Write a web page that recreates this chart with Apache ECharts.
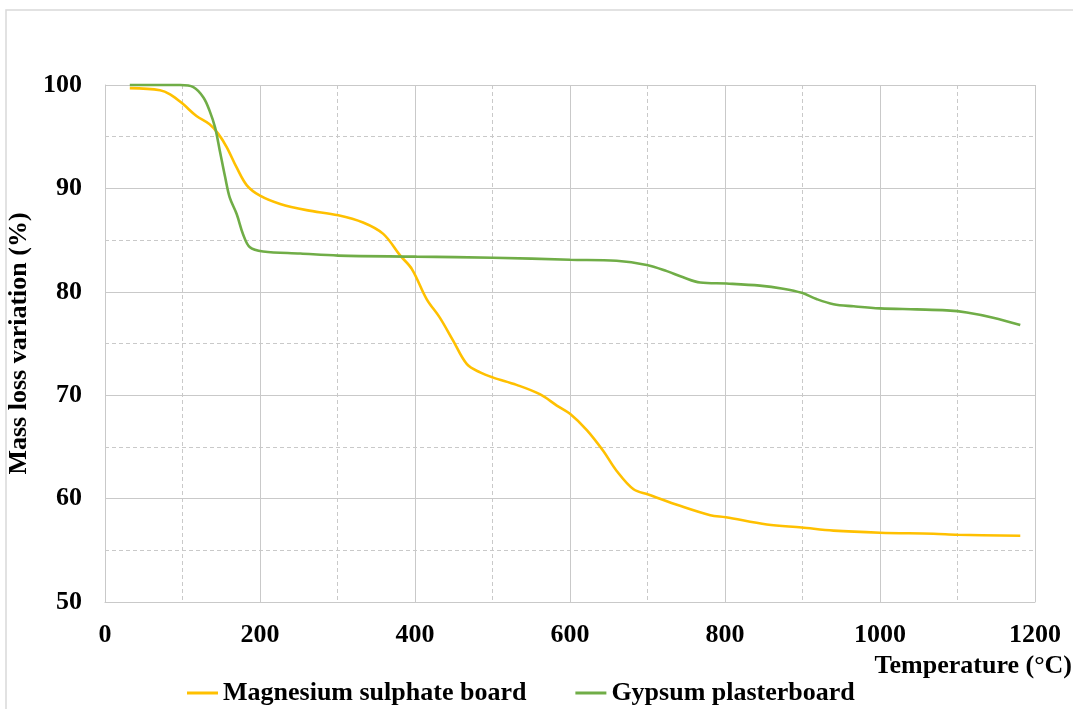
<!DOCTYPE html>
<html>
<head>
<meta charset="utf-8">
<script src="https://cdn.jsdelivr.net/npm/echarts@6/dist/echarts.min.js"></script>
<style>
  html, body { margin: 0; padding: 0; background: #ffffff; }
  #chart { width: 1073px; height: 709px; }
</style>
</head>
<body>
<div id="chart"></div>
<script>
// Thermogravimetric curves: temperature (°C) vs remaining mass (%)
const magnesiumTemp = [32, 71, 84, 100, 118, 135, 146, 157, 170, 183, 200, 226, 260, 301, 333, 359, 381, 396, 415, 432, 449, 467, 484, 501, 531, 561, 583, 600, 622, 643, 660, 682, 701, 742, 781, 801, 854, 899, 940, 1000, 1069, 1100, 1181];
const magnesiumMass = [99.7, 99.5, 99.1, 98.2, 97.0, 96.2, 95.3, 94.0, 92.0, 90.3, 89.3, 88.5, 87.9, 87.4, 86.7, 85.6, 83.5, 82.2, 79.3, 77.5, 75.3, 73.0, 72.2, 71.7, 71.0, 70.1, 69.0, 68.2, 66.6, 64.6, 62.7, 60.9, 60.4, 59.3, 58.4, 58.2, 57.5, 57.2, 56.9, 56.7, 56.6, 56.5, 56.4];

const gypsumTemp = [32, 97, 114, 127, 135, 142, 148, 155, 161, 170, 178, 187, 204, 252, 301, 402, 501, 600, 660, 699, 725, 746, 768, 802, 845, 875, 899, 918, 940, 966, 1000, 1047, 1086, 1112, 1146, 1181];
const gypsumMass = [100, 100, 99.8, 98.8, 97.5, 95.9, 93.7, 91.1, 89.1, 87.5, 85.6, 84.3, 83.9, 83.7, 83.5, 83.4, 83.3, 83.1, 83.0, 82.6, 82.0, 81.4, 80.9, 80.8, 80.6, 80.3, 79.9, 79.3, 78.8, 78.6, 78.4, 78.3, 78.2, 78.0, 77.5, 76.8];

const seriesNames = ['Magnesium sulphate board', 'Gypsum plasterboard'];
const xTitle = 'Temperature (°C)';
const yTitle = 'Mass loss variation (%)';

const zip = (xs, ys) => xs.map((x, i) => [x, ys[i]]);

const FONT = '"Liberation Serif", "Times New Roman", serif';
const gridColor = '#c9c9c9';

const chart = echarts.init(document.getElementById('chart'), null, { renderer: 'canvas' });

chart.setOption({
  backgroundColor: '#ffffff',
  animation: false,
  grid: { left: 105, right: 38, top: 85, bottom: 107, outerBoundsMode: 'none', containLabel: false },
  graphic: [
    {
      type: 'rect',
      z: -10,
      shape: { x: 6, y: 10, width: 1100, height: 720 },
      style: { fill: 'none', stroke: '#d9d9d9', lineWidth: 1.5 }
    },
    {
      type: 'text',
      right: 1,
      top: 653,
      style: { text: xTitle, font: 'bold 26px ' + FONT, fill: '#000000' }
    }
  ],
  legend: {
    left: 182,
    top: 675,
    itemGap: 49,
    itemWidth: 31,
    itemHeight: 3,
    icon: 'rect',
    textStyle: { fontFamily: FONT, fontWeight: 'bold', fontSize: 26, color: '#000000' },
    data: seriesNames
  },
  xAxis: {
    type: 'value',
    min: 0,
    max: 1200,
    interval: 200,
    axisLine: { show: true, lineStyle: { color: gridColor, width: 1 } },
    axisTick: { show: false },
    axisLabel: {
      margin: 20,
      fontFamily: FONT, fontWeight: 'bold', fontSize: 26, color: '#000000',
      formatter: v => String(v)
    },
    splitLine: { show: true, lineStyle: { color: gridColor, width: 1 } },
    minorTick: { show: false, splitNumber: 2 },
    minorSplitLine: { show: true, lineStyle: { color: gridColor, width: 1, type: [4, 3] } }
  },
  yAxis: {
    type: 'value',
    min: 50,
    max: 100,
    interval: 10,
    name: yTitle,
    nameLocation: 'middle',
    nameRotate: 90,
    nameGap: 71,
    nameTextStyle: { fontFamily: FONT, fontWeight: 'bold', fontSize: 26, color: '#000000' },
    axisLine: { show: true, lineStyle: { color: gridColor, width: 1 } },
    axisTick: { show: false },
    axisLabel: {
      margin: 23,
      fontFamily: FONT, fontWeight: 'bold', fontSize: 26, color: '#000000',
      formatter: v => String(v)
    },
    splitLine: { show: true, lineStyle: { color: gridColor, width: 1 } },
    minorTick: { show: false, splitNumber: 2 },
    minorSplitLine: { show: true, lineStyle: { color: gridColor, width: 1, type: [4, 3] } }
  },
  series: [
    {
      name: seriesNames[0],
      type: 'line',
      data: zip(magnesiumTemp, magnesiumMass),
      showSymbol: false,
      smooth: 0.35,
      clip: false,
      color: '#FFC000',
      lineStyle: { color: '#FFC000', width: 2.6 }
    },
    {
      name: seriesNames[1],
      type: 'line',
      data: zip(gypsumTemp, gypsumMass),
      showSymbol: false,
      smooth: 0.35,
      clip: false,
      color: '#70AD47',
      lineStyle: { color: '#70AD47', width: 2.6 }
    }
  ]
});
</script>
</body>
</html>
